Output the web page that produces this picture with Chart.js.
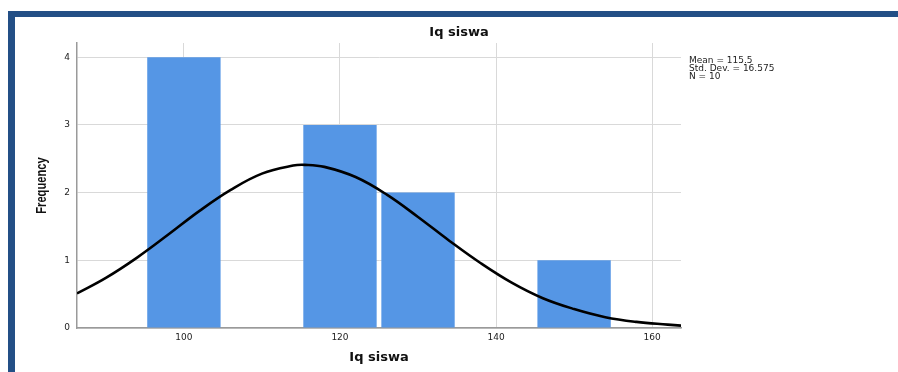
<!DOCTYPE html>
<html>
<head>
<meta charset="utf-8">
<script src="https://cdn.jsdelivr.net/npm/chart.js@4/dist/chart.umd.min.js"></script>
<style>
  html, body { margin: 0; padding: 0; background: #fff; }
  #frame {
    position: absolute; left: 8px; top: 11px; width: 890px; height: 361px;
    border-top: 6px solid #234f86; border-left: 7px solid #234f86;
    box-sizing: border-box;
  }
  #wrap { position: absolute; left: 0; top: 0; width: 898px; height: 372px; }
</style>
</head>
<body>
<div id="frame"></div>
<div id="wrap"><canvas id="chart" width="898" height="372"></canvas></div>
<script>
// histogram bins (bin centres) and counts
const binCenters = [100, 120, 130, 150];
const counts = [4, 3, 2, 1];

// normal curve
const curveX = [86.3, 90, 94, 98, 102, 106, 110, 114, 115.5, 118, 122, 126, 130, 134, 138, 142, 146, 150, 154, 158, 162, 163.7];
const curveY = [0.51, 0.74, 1.04, 1.38, 1.73, 2.04, 2.28, 2.40, 2.41, 2.38, 2.23, 1.97, 1.64, 1.29, 0.96, 0.67, 0.44, 0.28, 0.16, 0.09, 0.05, 0.035];

const xTicks = [100, 120, 140, 160];
const yTicks = [0, 1, 2, 3, 4];
const chartTitle = 'Iq siswa';
const yTitle = 'Frequency';
const statsText = ['Mean = 115.5', 'Std. Dev. = 16.575', 'N = 10'];

// title over the whole frame, narrow y title, stats box
const textPlugin = {
    id: 'texts',
    afterDraw(chart) {
        const ctx = chart.ctx;
        const area = chart.chartArea;
        ctx.save();
        ctx.fillStyle = '#111';
        ctx.textAlign = 'center';
        ctx.textBaseline = 'middle';
        ctx.font = 'bold 13px "DejaVu Sans", sans-serif';
        ctx.fillText(chartTitle, 459, 33);

        ctx.save();
        ctx.translate(42, (area.top + area.bottom) / 2);
        ctx.rotate(-Math.PI / 2);
        ctx.scale(0.8, 1);
        ctx.font = 'bold 14px "Liberation Sans", Arial, sans-serif';
        ctx.fillText(yTitle, 0, 0);
        ctx.restore();

        ctx.font = '9px "DejaVu Sans", sans-serif';
        ctx.fillStyle = '#222';
        ctx.textAlign = 'left';
        statsText.forEach(function(t, i) {
            ctx.fillText(t, area.right + 8, 61 + i * 7.6);
        });
        ctx.restore();
    }
};

new Chart(document.getElementById('chart'), {
    type: 'bar',
    data: {
        datasets: [{
            type: 'line',
            data: curveX.map((x, i) => ({x: x, y: curveY[i]})),
            borderColor: '#000',
            borderWidth: 2.6,
            pointRadius: 0,
            tension: 0.4,
            order: 0
        }, {
            data: binCenters.map((x, i) => ({x: x, y: counts[i]})),
            backgroundColor: '#5596e5',
            borderWidth: 0,
            barPercentage: 0.94,
            categoryPercentage: 1,
            order: 1
        }]
    },
    options: {
        responsive: false,
        animation: false,
        layout: { padding: { left: 30, right: 217, top: 43, bottom: 0 } },
        plugins: {
            legend: { display: false },
            tooltip: { enabled: false },
            title: { display: false }
        },
        scales: {
            x: {
                type: 'linear',
                min: 86.3,
                max: 163.7,
                offset: false,
                afterFit: function(scale) { scale.height = 44; },
                afterBuildTicks: function(scale) { scale.ticks = xTicks.map(v => ({value: v})); },
                grid: { color: '#d9d9d9', drawTicks: false, offset: false },
                border: { color: '#9a9a9a', width: 1.5 },
                ticks: {
                    padding: 4,
                    color: '#222',
                    font: { family: '"DejaVu Sans", sans-serif', size: 9 }
                },
                title: {
                    display: true,
                    text: 'Iq siswa',
                    color: '#111',
                    font: { family: '"DejaVu Sans", sans-serif', size: 13, weight: 'bold', lineHeight: 1.2 },
                    padding: { top: 0, bottom: 7 }
                }
            },
            y: {
                min: 0,
                max: 4.21,
                afterFit: function(scale) { scale.width = 47; },
                afterBuildTicks: function(scale) { scale.ticks = yTicks.map(v => ({value: v})); },
                grid: { color: '#d9d9d9', drawTicks: false },
                border: { color: '#9a9a9a', width: 1.5 },
                ticks: {
                    padding: 7,
                    color: '#222',
                    font: { family: '"DejaVu Sans", sans-serif', size: 9 }
                }
            }
        }
    },
    plugins: [textPlugin]
});
</script>
</body>
</html>
